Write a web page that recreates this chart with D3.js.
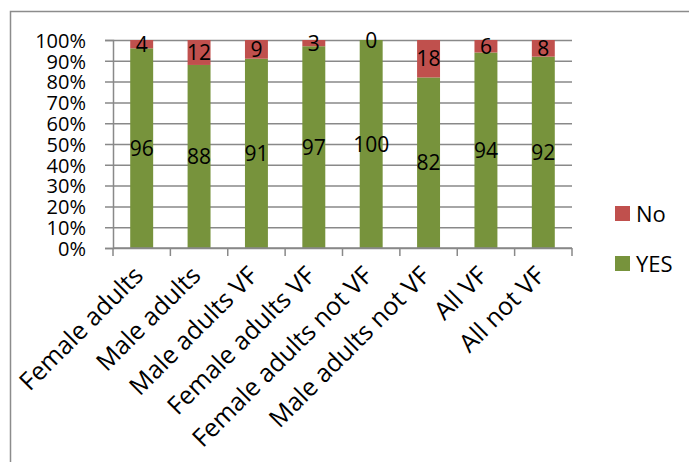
<!DOCTYPE html>
<html><head><meta charset="utf-8">
<script src="https://cdn.jsdelivr.net/npm/d3@7"></script>
<style>body{margin:0;background:#fff}svg{display:block}text{font-family:"Open Sans",sans-serif}</style>
</head><body>
<svg id="c" width="689" height="462"></svg>
<script>
const categories = ["Female adults","Male adults","Male adults VF","Female adults VF","Female adults not VF","Male adults not VF","All VF","All not VF"];
const yesValues = [96,88,91,97,100,82,94,92];
const noValues = [4,12,9,3,0,18,6,8];
const seriesNames = ["No","YES"];
const yTicks = [0,0.1,0.2,0.3,0.4,0.5,0.6,0.7,0.8,0.9,1];
const colors = {YES:"#77933C", No:"#C0504D"};

const svg = d3.select("#c");
const L=113, R=572, T=40, B=248;
const x = d3.scaleBand().domain(categories).range([L,R]).padding(0);
const y = d3.scaleLinear().domain([0,1]).range([B,T]);
const grid = "#898989";

// outer border
svg.append("rect").attr("x",10.5).attr("y",11.5).attr("width",700).attr("height",470)
  .attr("fill","none").attr("stroke","#8c8c8c").attr("stroke-width",1.5);

// gridlines + y axis
const yAxis = d3.axisLeft(y).tickValues(yTicks).tickSize(8).tickFormat(d3.format(".0%"));
const gy = svg.append("g").attr("transform",`translate(${L},0)`).call(yAxis);
gy.select(".domain").attr("stroke",grid).attr("stroke-width",1.5);
gy.selectAll(".tick line").attr("stroke",grid).attr("stroke-width",1.5).attr("x2",R-L);
gy.selectAll(".tick line").attr("x1",-8);
gy.selectAll(".tick text").attr("x",-27).attr("font-size",20).attr("fill","#000").attr("dy","0.36em");

// bars
const stacks = categories.map((c,i)=>({c, yes:yesValues[i]/100, no:noValues[i]/100}));
const bw = x.bandwidth()*0.4;
const bars = svg.append("g");
bars.selectAll("rect.yes").data(stacks).join("rect").attr("class","yes")
  .attr("x",d=>x(d.c)+x.bandwidth()/2-bw/2).attr("width",bw)
  .attr("y",d=>y(d.yes)).attr("height",d=>y(0)-y(d.yes)).attr("fill",colors.YES);
bars.selectAll("rect.no").data(stacks).join("rect").attr("class","no")
  .attr("x",d=>x(d.c)+x.bandwidth()/2-bw/2).attr("width",bw)
  .attr("y",d=>y(d.yes+d.no)).attr("height",d=>y(d.yes)-y(d.yes+d.no)).attr("fill",colors.No);

// x axis
const gx = svg.append("g").attr("transform",`translate(0,${B})`);
gx.append("line").attr("x1",L).attr("x2",R).attr("stroke",grid).attr("stroke-width",1.5);
const edges = categories.map(c=>x(c)).concat([x(categories[categories.length-1])+x.bandwidth()]);
gx.selectAll("line.t").data(edges).join("line").attr("class","t")
  .attr("x1",d=>d).attr("x2",d=>d).attr("y1",0).attr("y2",8).attr("stroke",grid).attr("stroke-width",1.5);
gx.selectAll("text").data(categories).join("text")
  .attr("transform",d=>`translate(${x(d)+x.bandwidth()/2+3},29) rotate(-45)`)
  .attr("text-anchor","end").attr("font-size",25).attr("fill","#000").text(d=>d);

// data labels
const lab = svg.append("g").attr("font-size",21).attr("text-anchor","middle").attr("fill","#000");
lab.selectAll("text.y").data(stacks).join("text").attr("class","y")
  .attr("x",d=>x(d.c)+x.bandwidth()/2).attr("y",d=>y(d.yes/2)).attr("dy","0.36em").text(d=>Math.round(d.yes*100));
lab.selectAll("text.n").data(stacks).join("text").attr("class","n")
  .attr("x",d=>x(d.c)+x.bandwidth()/2).attr("y",d=>y(d.yes+d.no/2)).attr("dy","0.36em").text(d=>Math.round(d.no*100));

// legend
const leg = svg.append("g");
const legY = {No:206, YES:256};
seriesNames.forEach(s=>{
  leg.append("rect").attr("x",615).attr("y",legY[s]).attr("width",15).attr("height",15).attr("fill",colors[s]);
  leg.append("text").attr("x",636).attr("y",legY[s]+16).attr("font-size",22).attr("fill","#000").text(s);
});
</script>
</body></html>
